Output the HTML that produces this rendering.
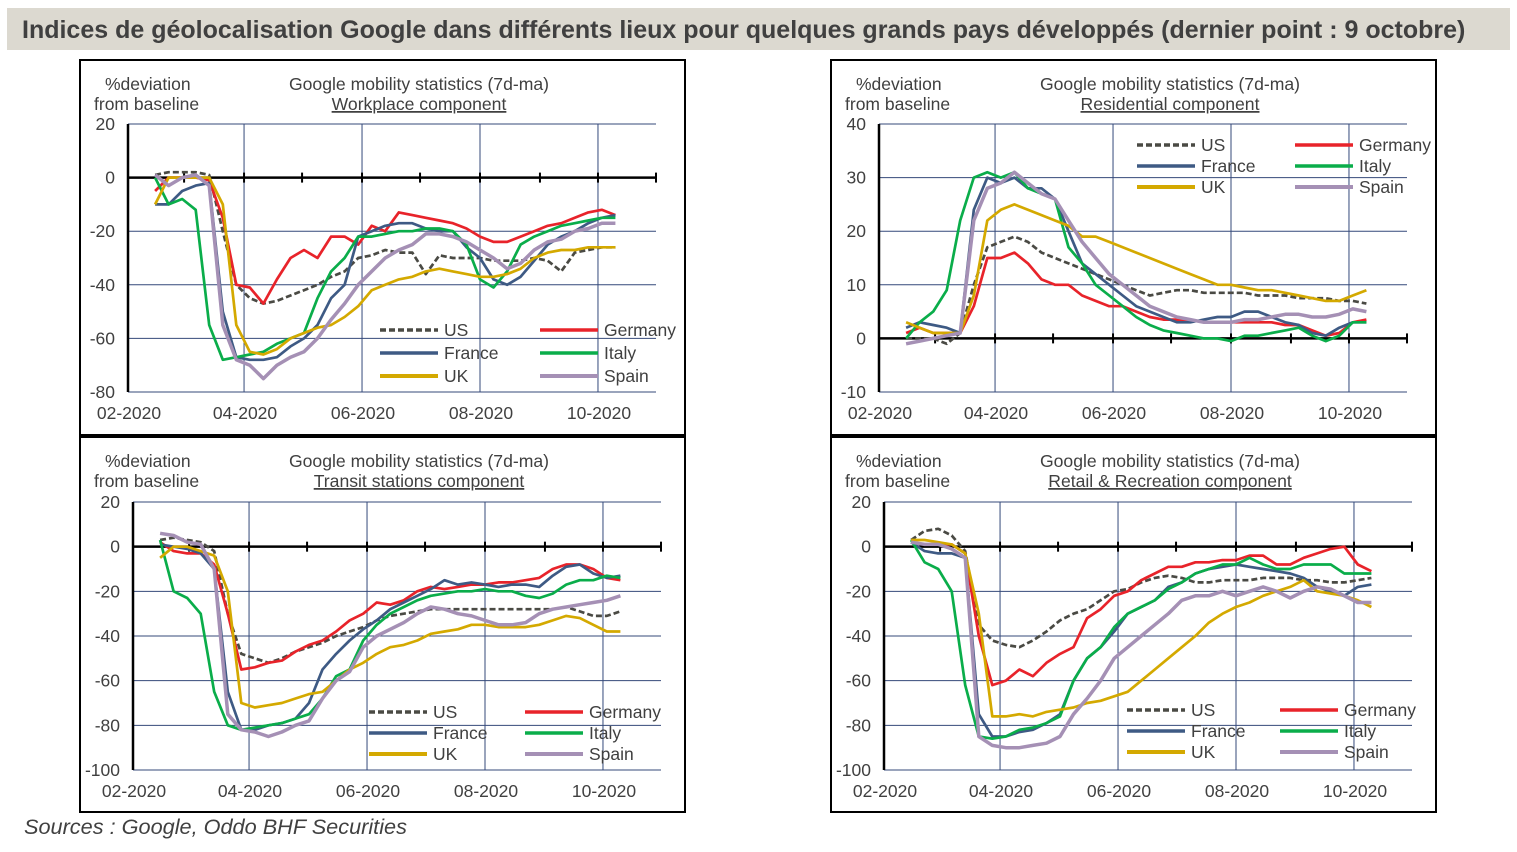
<!DOCTYPE html>
<html><head><meta charset="utf-8">
<style>
body{margin:0;background:#fff;width:1517px;height:852px;overflow:hidden;font-family:"Liberation Sans",sans-serif;}
#title{position:absolute;left:7px;top:8px;width:1503px;height:42px;background:#dcd9d0;color:#404040;font-weight:bold;font-size:25px;line-height:44px;text-align:left;text-indent:15px;white-space:nowrap;overflow:hidden;}
#src{position:absolute;left:24px;top:814px;font-style:italic;font-size:21.7px;color:#404040;}
svg{position:absolute;left:0;top:0;}
</style></head><body>
<div id="title">Indices de géolocalisation Google dans différents lieux pour quelques grands pays développés (dernier point : 9 octobre)</div>
<div id="src">Sources : Google, Oddo BHF Securities</div>
<svg id="svg" width="1517" height="852" xmlns="http://www.w3.org/2000/svg"></svg>
<script>
// days since Feb 1 2020 (weekly samples)
const days = [14,21,28,35,42,49,56,63,70,77,84,91,98,105,112,119,126,133,140,147,154,161,168,175,182,189,196,203,210,217,224,231,238,245,252];
const xTickLabels = ["02-2020","04-2020","06-2020","08-2020","10-2020"];
const xTickDays = [0,60,121,182,243];
const monthDays = [0,29,60,90,121,151,182,213,243,273];
const seriesNames = ["US","Germany","France","Italy","UK","Spain"];

const wpUS = [1,2,2,2,1,-20,-40,-45,-47,-46,-44,-42,-40,-37,-35,-30,-29,-27,-28,-28,-36,-29,-30,-30,-30,-31,-31,-31,-30,-31,-35,-28,-27,-26,-26];
const wpDE = [-5,0,0,0,-1,-15,-40,-41,-47,-38,-30,-27,-30,-22,-22,-25,-18,-20,-13,-14,-15,-16,-17,-19,-22,-24,-24,-22,-20,-18,-17,-15,-13,-12,-14];
const wpFR = [-10,-10,-5,-3,-2,-50,-67,-68,-68,-67,-63,-60,-55,-45,-40,-22,-20,-18,-17,-17,-19,-20,-20,-26,-30,-38,-40,-37,-31,-25,-22,-20,-17,-15,-14];
const wpIT = [0,-10,-8,-12,-55,-68,-67,-66,-65,-62,-60,-58,-45,-35,-30,-22,-22,-21,-20,-20,-19,-19,-20,-25,-38,-41,-35,-25,-22,-20,-18,-17,-16,-15,-15];
const wpUK = [-10,0,0,0,0,-10,-55,-65,-66,-64,-60,-58,-56,-55,-52,-48,-42,-40,-38,-37,-35,-34,-35,-36,-37,-37,-36,-34,-30,-28,-27,-27,-26,-26,-26];
const wpES = [1,-3,0,1,-3,-55,-68,-70,-75,-70,-67,-65,-60,-53,-47,-40,-35,-30,-27,-25,-21,-21,-22,-24,-27,-30,-34,-32,-27,-24,-23,-20,-19,-17,-17];

const reUS = [0,0,0,-1,1,10,17,18,19,18,16,15,14,13,12,11,10,9,8,8.5,9,9,8.5,8.5,8.5,8.5,8,8,8,7.5,7.5,7.5,7,7,6.5];
const reDE = [1,2,1,1,1,6,15,15,16,14,11,10,10,8,7,6,6,5,4,3.5,3.5,3.5,3,3,3,3,3,3,2.5,2.5,1.5,0.5,1,3,3.5];
const reFR = [2,3,2.5,2,1,24,30,29,30,28,28,26,20,14,12,10,8,6,5,4,3,3,3.5,4,4,5,5,4,3,2.5,1,0.5,2,3,3];
const reIT = [0,3,5,9,22,30,31,30,31,28,27,26,17,14,10,8,6,4,2.5,1.5,1,0.5,0,0,-0.5,0.5,0.5,1,1.5,2,0.5,-0.5,0.5,3,3];
const reUK = [3,2,1,1,1,8,22,24,25,24,23,22,21,19,19,18,17,16,15,14,13,12,11,10,10,9.5,9,9,8.5,8,7.5,7,7,8,9];
const reES = [-1,-0.5,0,0.5,1,22,28,29,31,29,27,26,22,18,15,12,10,8,6,5,4,3.5,3,3,3,3.5,3.5,4,4.5,4.5,4,4,4.5,5.5,5];

const trUS = [3,4,3,2,-2,-30,-48,-50,-52,-50,-47,-45,-43,-40,-38,-36,-33,-31,-30,-29,-28,-28,-28,-28,-28,-28,-28,-28,-28,-28,-27,-29,-31,-31,-29];
const trDE = [2,-2,-3,-3,-8,-30,-55,-54,-52,-51,-47,-44,-42,-38,-33,-30,-25,-26,-24,-20,-18,-19,-18,-17,-17,-16,-16,-15,-14,-10,-8,-8,-10,-14,-15];
const trFR = [1,0,-1,-3,-10,-65,-82,-82,-80,-79,-77,-70,-55,-48,-42,-37,-33,-28,-25,-22,-19,-15,-17,-16,-17,-18,-17,-17,-18,-13,-9,-8,-12,-14,-13];
const trIT = [3,-20,-23,-30,-65,-80,-82,-81,-80,-79,-77,-75,-68,-58,-55,-42,-35,-30,-27,-24,-22,-21,-20,-20,-19,-20,-20,-22,-23,-21,-17,-15,-15,-13,-14];
const trUK = [-5,0,0,-2,-4,-20,-70,-72,-71,-70,-68,-66,-65,-60,-55,-52,-48,-45,-44,-42,-39,-38,-37,-35,-35,-36,-36,-36,-35,-33,-31,-32,-35,-38,-38];
const trES = [6,5,2,1,-10,-75,-82,-83,-85,-83,-80,-78,-68,-60,-56,-45,-40,-37,-34,-30,-27,-28,-30,-31,-33,-35,-35,-34,-30,-28,-27,-26,-25,-24,-22];

const rtUS = [3,7,8,5,-2,-35,-42,-44,-45,-42,-38,-33,-30,-28,-24,-20,-19,-16,-14,-13,-14,-16,-16,-15,-15,-15,-14,-14,-14,-15,-15,-16,-16,-15,-14];
const rtDE = [2,1,1,1,-3,-40,-62,-60,-55,-58,-52,-48,-45,-32,-28,-22,-20,-15,-12,-9,-9,-7,-7,-6,-6,-4,-4,-8,-8,-5,-3,-1,0,-8,-11];
const rtFR = [2,-2,-3,-3,-5,-75,-85,-85,-83,-82,-79,-75,-60,-50,-45,-38,-30,-27,-24,-18,-16,-12,-10,-9,-8,-9,-10,-11,-12,-14,-18,-20,-22,-18,-17];
const rtIT = [3,-7,-10,-20,-62,-85,-86,-85,-82,-81,-79,-76,-60,-50,-45,-36,-30,-27,-24,-19,-16,-12,-10,-8,-8,-5,-8,-10,-10,-8,-8,-8,-12,-12,-12];
const rtUK = [3,3,2,1,-3,-30,-76,-76,-75,-76,-74,-73,-72,-70,-69,-67,-65,-60,-55,-50,-45,-40,-34,-30,-27,-25,-22,-20,-18,-15,-20,-21,-22,-24,-27];
const rtES = [2,1,1,-1,-5,-85,-89,-90,-90,-89,-88,-85,-75,-68,-60,-50,-45,-40,-35,-30,-24,-22,-22,-20,-22,-20,-18,-20,-23,-20,-18,-19,-22,-25,-25];

const colors = {US:"#4a4a44",Germany:"#e8232a",France:"#3e5a84",Italy:"#0aad4a",UK:"#d4a900",Spain:"#a590b5"};
const NS="http://www.w3.org/2000/svg";
const svg=document.getElementById('svg');
function mk(tag,attrs,parent){const e=document.createElementNS(NS,tag);for(const k in attrs)e.setAttribute(k,attrs[k]);(parent||svg).appendChild(e);return e;}

function chart(cfg){
  const g=mk('g',{});
  
  
  const box=mk('rect',{x:cfg.bx,y:cfg.by,width:605,height:375,fill:'none',stroke:'#000','stroke-width':2},g);
  
  
  const L=cfg.px,T=cfg.py,W=528,H=268;
  const sx=d=>L+d*(W/273);
  const sy=v=>T+(cfg.ymax-v)*H/(cfg.ymax-cfg.ymin);
  for(let v=cfg.ymin;v<=cfg.ymax;v+=cfg.step){
    const l=mk('line',{x1:L,x2:L+W,y1:sy(v),y2:sy(v),stroke:'#34497a','stroke-width':1},g);
    
    
    const t=mk('text',{x:L-13,y:sy(v)+6,'text-anchor':'end','font-size':17.5,fill:'#404040'},g);
    t.textContent=v;
    
    
  }
  xTickDays.forEach((d,i)=>{
    if(i>0){const l=mk('line',{x1:sx(d),x2:sx(d),y1:T,y2:T+H,stroke:'#34497a','stroke-width':1},g);
    
    }
    const t=mk('text',{x:sx(d)+1,y:T+H+27,'text-anchor':'middle','font-size':17.5,fill:'#404040'},g);
    t.textContent=xTickLabels[i];
    
    
  });
  const ya=mk('line',{x1:L,x2:L,y1:T,y2:T+H,stroke:'#000','stroke-width':2.5},g);
  
  
  const xa=mk('line',{x1:L,x2:L+W,y1:sy(0),y2:sy(0),stroke:'#000','stroke-width':2.5},g);
  
  
  monthDays.forEach(d=>{const tk=mk('line',{x1:sx(d),x2:sx(d),y1:sy(0)-5,y2:sy(0)+5,stroke:'#000','stroke-width':2},g);
    
    });
  const h1=mk('text',{x:cfg.bx+25,y:cfg.by+30,'font-size':17.5,fill:'#404040'},g);h1.textContent='%deviation';
  
  
  const h2=mk('text',{x:cfg.bx+14,y:cfg.by+50,'font-size':17.5,fill:'#404040'},g);h2.textContent='from baseline';
  
  
  const t1=mk('text',{x:cfg.bx+339,y:cfg.by+30,'font-size':17.6,fill:'#404040','text-anchor':'middle'},g);t1.textContent='Google mobility statistics (7d-ma)';
  
  
  const t2=mk('text',{x:cfg.bx+339,y:cfg.by+50,'font-size':17.6,fill:'#404040','text-anchor':'middle','text-decoration':'underline'},g);t2.textContent=cfg.sub;
  
  
  cfg.data.forEach((arr,i)=>{
    const nm=seriesNames[i];
    const pts=arr.map((v,j)=>sx(days[j]).toFixed(1)+','+sy(v).toFixed(1)).join(' ');
    const p=mk('polyline',{points:pts,fill:'none',stroke:colors[nm],'stroke-width':nm==='Spain'?3.5:2.7,'stroke-linejoin':'round','stroke-dasharray':nm==='US'?'6,3':'none'},g);
    
    
  });
  const order=[["US","France","UK"],["Germany","Italy","Spain"]];
  order.forEach((col,c)=>col.forEach((nm,r)=>{
    const lx=cfg.lg[c],ly=cfg.lg[2]+r*cfg.lg[3];
    const l=mk('line',{x1:lx,x2:lx+58,y1:ly,y2:ly,stroke:colors[nm],'stroke-width':nm==='Spain'||nm==='UK'?4:3.5,'stroke-dasharray':nm==='US'?'6,3':'none'},g);
    
    
    const t=mk('text',{x:lx+64,y:ly+6,'font-size':17.5,fill:'#404040'},g);t.textContent=nm;
    
    
  }));
}
chart({name:'workplace-chart',bx:80,by:60,px:128,py:124,ymin:-80,ymax:20,step:20,sub:'Workplace component',data:[wpUS,wpDE,wpFR,wpIT,wpUK,wpES],lg:[380,540,330,23]});
chart({name:'residential-chart',bx:831,by:60,px:879,py:124,ymin:-10,ymax:40,step:10,sub:'Residential component',data:[reUS,reDE,reFR,reIT,reUK,reES],lg:[1137,1295,145,21]});
chart({name:'transit-chart',bx:80,by:437,px:133,py:502,ymin:-100,ymax:20,step:20,sub:'Transit stations component',data:[trUS,trDE,trFR,trIT,trUK,trES],lg:[369,525,712,21]});
chart({name:'retail-chart',bx:831,by:437,px:884,py:502,ymin:-100,ymax:20,step:20,sub:'Retail & Recreation component',data:[rtUS,rtDE,rtFR,rtIT,rtUK,rtES],lg:[1127,1280,710,21]});
</script>
</body></html>
